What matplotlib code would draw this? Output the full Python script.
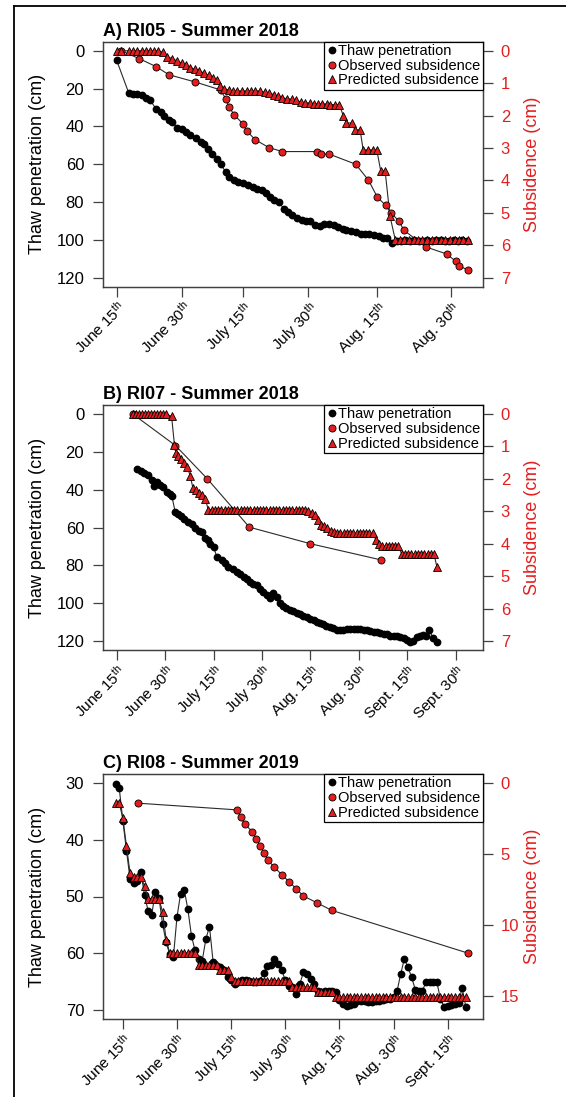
import matplotlib
matplotlib.use("Agg")
import matplotlib.pyplot as plt
from matplotlib.lines import Line2D

plt.rcParams["font.family"] = ["Liberation Sans", "DejaVu Sans"]
plt.rcParams["mathtext.fontset"] = "custom"
plt.rcParams["mathtext.rm"] = "Liberation Sans"
plt.rcParams["mathtext.default"] = "regular"

RED = "#e41e1e"
LINE = "#2a2a2a"
BOX = "#404040"

# ---- A) RI05, summer 2018 (x = days after June 15) ----
A_thaw_day = [0, 2.8, 3.7, 4.7, 5.7, 6.6, 7.6, 9.0, 10.0, 10.8, 11.9, 12.7, 13.7, 14.8, 15.8, 16.8,
              18.0, 19.1, 19.9, 20.7, 21.8, 22.8, 23.7, 24.8, 25.6, 26.7, 27.7, 28.7, 30.0, 31.0,
              32.0, 33.0, 34.1, 34.9, 35.9, 36.9, 38.0, 39.0, 40.0, 41.1, 42.2, 43.1, 44.1, 45.1,
              46.2, 47.2, 48.4, 49.5, 50.3, 51.4, 52.3, 53.3, 54.4, 55.5, 56.5, 57.4, 58.5, 59.6,
              60.6, 61.5, 62.6, 63.7, 64.7, 65.7, 66.7, 67.7, 68.7, 69.7, 70.7, 71.7, 72.7, 73.7,
              74.7, 75.7, 76.7, 77.7, 78.7, 79.7]
A_thaw_cm = [5.0, 22.6, 23.1, 23.1, 23.2, 24.8, 26.1, 30.8, 32.3, 34.5, 36.7, 37.6, 40.6, 41.6, 42.9, 44.6,
             46.4, 48.2, 49.4, 52.2, 54.7, 57.0, 60.0, 64.1, 66.7, 68.5, 69.3, 70.2, 71.1, 72.0,
             72.9, 73.8, 75.2, 77.3, 78.7, 79.9, 83.5, 85.2, 87.0, 88.2, 89.6, 90.0, 90.0, 92.3,
             92.8, 91.8, 91.8, 92.3, 93.2, 94.2, 94.9, 95.3, 95.8, 96.7, 96.7, 97.1, 97.6, 98.1,
             98.8, 99.3, 101.5, 100.6, 100.4, 100.2, 100.5, 100.3, 100.6, 100.4, 100.2, 100.5, 100.3, 100.1,
             100.4, 100.6, 100.3, 100.5, 100.2, 100.4]
A_obs_day = [1.0, 5.1, 9.0, 11.9, 17.8, 23.7, 24.8, 25.6, 26.7, 28.7, 29.7, 31.6, 34.7, 37.7, 45.6,
             46.6, 48.4, 54.4, 57.3, 59.3, 61.2, 62.4, 64.3, 65.3, 70.3, 75.1, 77.2, 78.0, 80.0]
A_obs_cm = [0.0, 0.24, 0.49, 0.74, 0.96, 1.21, 1.48, 1.73, 1.97, 2.25, 2.49, 2.75, 2.99, 3.11, 3.11,
            3.19, 3.19, 3.50, 3.99, 4.51, 4.77, 5.00, 5.26, 5.53, 6.05, 6.27, 6.50, 6.64, 6.77]
A_pred_day = [0, 1.0, 2.8, 3.7, 4.7, 5.7, 6.6, 7.6, 8.4, 9.4,
              10.6, 11.5, 12.7, 13.7, 14.8, 15.8, 16.8, 17.8, 18.8, 19.9, 21.0, 21.9, 22.8,
              23.6, 24.4, 25.5, 26.5, 27.5, 28.5, 29.6, 30.6, 31.6, 32.6,
              33.7, 34.7, 35.7, 36.7, 37.7, 38.8, 39.9, 40.8, 41.9, 42.9,
              44.0, 44.9, 45.8, 46.8, 47.8, 48.6, 49.7, 50.7,
              51.6, 52.3, 53.5, 54.2, 55.4, 56.1, 57.3, 58.3, 59.2, 60.1, 61.1, 62.2,
              63.4, 64.5, 65.5, 66.5, 67.6, 68.6, 69.6, 70.7, 71.7, 72.7, 73.8, 74.8, 75.8, 76.9,
              77.9, 78.9, 80.0]
A_pred_cm = [0.0, 0.0, 0.0, 0.0, 0.0, 0.0, 0.0, 0.0, 0.0, 0.0,
             0.05, 0.19, 0.24, 0.31, 0.38, 0.45, 0.52, 0.57, 0.62, 0.69, 0.76, 0.83, 0.91,
             1.09, 1.17, 1.21, 1.24, 1.24, 1.24, 1.24, 1.24, 1.24, 1.24,
             1.28, 1.30, 1.35, 1.40, 1.45, 1.48, 1.50, 1.53, 1.58, 1.61,
             1.61, 1.63, 1.64, 1.64, 1.64, 1.66, 1.66, 1.66,
             2.02, 2.23, 2.23, 2.44, 2.44, 3.06, 3.06, 3.06, 3.06, 3.71, 3.71, 5.10,
             5.83, 5.83, 5.83, 5.83, 5.83, 5.83, 5.83, 5.83, 5.83, 5.83, 5.83, 5.83, 5.83, 5.83,
             5.83, 5.83, 5.83]
A_tick_day = [0, 14.95, 28.7, 43.6, 59.3, 76]
A_tick_txt = ["June 15", "June 30", "July 15", "July 30", "Aug. 15", "Aug. 30"]

# ---- B) RI07, summer 2018 ----
B_thaw_day = [6.2, 7.5, 8.6, 9.7, 10.8, 11.4, 12.4, 13.4, 14.4, 15.5, 16.4, 17.1, 18.1, 18.9, 19.8,
              20.9, 22.0, 23.2, 24.3, 25.4, 26.5, 27.4, 28.2, 29.0, 30.0, 31.0, 32.5, 33.6, 34.6,
              36.1, 37.2, 38.2, 39.3, 40.3, 41.3, 42.3, 43.4, 44.4, 45.4, 46.5, 47.5, 48.5, 49.6,
              50.6, 51.6, 52.6, 53.7, 54.7, 55.8, 56.8, 57.8, 58.9, 59.9, 61.0, 62.0, 63.0, 64.0,
              65.0, 66.1, 67.1, 68.1, 69.2, 70.2, 71.3, 72.3, 73.4, 74.4, 75.5, 76.5, 77.5, 78.6,
              79.6, 80.6, 81.7, 82.7, 83.7, 84.8, 85.8, 86.8, 87.9, 88.9, 89.9, 90.9, 91.9, 92.9,
              93.9, 94.9, 95.9, 96.9, 98.0, 99.1]
B_thaw_cm = [28.8, 30.0, 31.4, 32.3, 34.9, 38.0, 35.8, 37.6, 38.8, 41.1, 42.5, 43.4, 51.7, 52.6, 54.0,
             55.6, 57.0, 58.4, 60.2, 61.8, 62.6, 65.3, 66.7, 68.5, 70.2, 75.5, 77.3, 79.0, 80.8,
             82.2, 83.5, 84.7, 86.1, 87.0, 88.8, 90.0, 90.5, 92.3, 94.1, 95.8, 97.1, 94.9, 96.7,
             100.2, 101.6, 102.5, 103.4, 104.3, 105.2, 106.0, 106.9, 107.5, 108.2, 109.1, 110.0, 110.6, 111.2,
             111.9, 112.6, 113.3, 114.0, 114.2, 114.3, 113.8, 113.5, 113.6, 113.5, 113.8, 114.0, 114.3, 114.8,
             115.2, 115.5, 116.0, 116.3, 116.5, 117.5, 117.5, 117.3, 117.8, 118.5, 119.5, 120.7, 119.8, 118.0,
             117.3, 117.0, 117.3, 114.2, 118.5, 120.7]
B_obs_day = [5.0, 18.2, 28.0, 41.1, 60.0, 81.9]
B_obs_cm = [0.0, 0.97, 1.99, 3.49, 4.00, 4.50]
B_pred_day = [5.0, 5.9, 6.9, 7.8, 8.7, 9.6, 10.5, 11.5, 12.4, 13.3, 14.3, 15.2,
              17.0, 17.9, 18.4, 19.0, 19.8, 20.8, 21.8, 22.8, 23.6, 24.5, 25.4, 26.4, 27.4, 28.4,
              29.4, 30.4, 31.4, 32.4, 33.4, 34.4, 35.4, 36.4, 37.4, 38.4, 39.4, 40.4, 41.4, 42.4, 43.4,
              44.4, 45.4, 46.4, 47.4, 48.4, 49.4, 50.4, 51.4, 52.4, 53.4, 54.4, 55.4, 56.4, 57.4, 58.4,
              59.4, 60.4, 61.3, 62.3, 63.3, 64.3, 65.3, 66.3, 67.3,
              68.3, 69.3, 70.3, 71.3, 72.3, 73.3, 74.3, 75.3, 76.3, 77.3, 78.3, 79.3,
              80.3, 81.3, 82.3, 83.3, 84.3, 85.3, 86.3, 87.3,
              88.3, 89.3, 90.3, 91.3, 92.3, 93.3, 94.3, 95.3, 96.3, 97.3, 98.3, 99.2]
B_pred_cm = [0.0, 0.0, 0.0, 0.0, 0.0, 0.0, 0.0, 0.0, 0.0, 0.0, 0.0, 0.0,
             0.07, 0.96, 1.19, 1.29, 1.40, 1.50, 1.62, 1.91, 2.28, 2.35, 2.43, 2.50, 2.62, 2.95,
             2.95, 2.95, 2.95, 2.95, 2.95, 2.95, 2.95, 2.95, 2.95, 2.95, 2.95, 2.95, 2.95, 2.95, 2.95,
             2.95, 2.95, 2.95, 2.95, 2.95, 2.95, 2.95, 2.95, 2.95, 2.95, 2.95, 2.95, 2.95, 2.95, 2.95,
             3.00, 3.05, 3.12, 3.26, 3.41, 3.46, 3.52, 3.60, 3.65,
             3.68, 3.68, 3.68, 3.68, 3.68, 3.68, 3.68, 3.68, 3.68, 3.68, 3.68, 3.68,
             3.88, 4.00, 4.08, 4.08, 4.08, 4.08, 4.08, 4.08,
             4.32, 4.32, 4.32, 4.32, 4.32, 4.32, 4.32, 4.32, 4.32, 4.32, 4.32, 4.71]
B_tick_day = [0, 15, 30, 45, 60, 75, 90, 105]
B_tick_txt = ["June 15", "June 30", "July 15", "July 30", "Aug. 15", "Aug. 30", "Sept. 15", "Sept. 30"]

# ---- C) RI08, summer 2019 (daily thaw + predicted) ----
C_day = [-2, -1, 0, 1, 2, 3, 4, 5, 6, 7, 8, 9, 10, 11, 12, 13, 14, 15, 16, 17, 18, 19, 20, 21, 22,
         23, 24, 25, 26, 27, 28, 29, 30, 31, 32, 33, 34, 35, 36, 37, 38, 39, 40, 41, 42, 43, 44, 45,
         46, 47, 48, 49, 50, 51, 52, 53, 54, 55, 56, 57, 58, 59, 60, 61, 62, 63, 64, 65, 66, 67, 68,
         69, 70, 71, 72, 73, 74, 75, 76, 77, 78, 79, 80, 81, 82, 83, 84, 85, 86, 87, 88, 89, 90, 91,
         92, 93, 94, 95]
C_thaw_cm = [30.1, 30.9, 36.6, 41.9, 46.9, 47.6, 47.3, 45.7, 49.8, 52.5, 53.2, 49.2, 50.2, 54.8, 58.1,
             60.2, 60.7, 53.6, 49.5, 48.8, 52.2, 56.9, 59.5, 61.0, 61.3, 57.5, 55.3, 61.5, 62.2, 62.5,
             63.0, 64.2, 64.8, 65.4, 65.1, 64.8, 64.8, 64.9, 65.0, 65.1, 64.9, 63.5, 62.2, 62.0, 61.0,
             61.9, 62.9, 64.8, 65.7, 66.0, 67.2, 65.5, 63.4, 63.6, 64.5, 65.4, 66.6, 66.9, 66.6, 66.6,
             66.6, 66.8, 68.2, 68.9, 69.3, 69.2, 68.9, 68.5, 68.4, 68.4, 68.6, 68.6, 68.5, 68.4, 68.3,
             68.1, 68.1, 67.8, 66.6, 63.6, 61.0, 62.5, 64.2, 66.4, 66.7, 66.6, 65.1, 65.1, 65.1, 65.1,
             68.1, 69.4, 69.3, 69.2, 68.9, 68.7, 66.1, 69.4]
C_pred_cm = [1.42, 1.42, 2.48, 4.44, 6.35, 6.62, 6.62, 6.62, 7.25, 8.15, 8.15, 8.15, 8.15, 9.10, 11.05,
             12.0, 12.0, 12.0, 12.0, 12.0, 12.0, 12.0, 12.0,
             12.85, 12.85, 12.85, 12.85, 12.85, 12.85,
             13.15, 13.15, 13.15, 13.7,
             13.94, 13.94, 13.94, 13.94, 13.94, 13.94, 13.94, 13.94, 13.94, 13.94, 13.94, 13.94, 13.94,
             13.94, 13.94, 13.94,
             14.4, 14.4, 14.4, 14.4, 14.4, 14.4, 14.4,
             14.76, 14.76, 14.76, 14.76, 14.76,
             15.1, 15.1, 15.1, 15.1, 15.1, 15.1, 15.1, 15.1, 15.1, 15.1, 15.1, 15.1, 15.1, 15.1, 15.1,
             15.1, 15.1, 15.1, 15.1, 15.1, 15.1, 15.1, 15.1, 15.1, 15.1, 15.1, 15.1, 15.1, 15.1, 15.1,
             15.1, 15.1, 15.1, 15.1, 15.1, 15.1, 15.1]
C_obs_day = [4.3, 31.6, 32.7, 33.8, 35.9, 37.0, 38.1, 39.1, 40.2, 42.0, 44.0, 46.1, 48.0, 50.0, 53.9,
             57.9, 95.7]
C_obs_cm = [1.42, 1.89, 2.41, 2.91, 3.43, 3.95, 4.44, 4.91, 5.43, 5.95, 6.45, 6.97, 7.44, 7.96, 8.46,
            8.98, 12.0]
C_tick_day = [0, 15, 30, 45, 60, 75, 90]
C_tick_txt = ["June 15", "June 30", "July 15", "July 30", "Aug. 15", "Aug. 30", "Sept. 15"]

MS_DOT, MS_CIRC, MS_TRI = 4.6, 5.1, 5.5


def style_frame(ax):
    for sp in ax.spines.values():
        sp.set_color(BOX)
        sp.set_linewidth(0.9)


def draw_panel(ax, title, thaw_day, thaw_cm, obs_day, obs_cm, pred_day, pred_cm,
               xlim, tick_day, tick_txt, thaw_lim, thaw_ticks, sub_lim, sub_ticks):
    ax.plot(thaw_day, thaw_cm, "-", color=LINE, lw=0.8, zorder=2)
    ax.plot(thaw_day, thaw_cm, "o", ms=MS_DOT, color="black", zorder=3)
    ax.set_xlim(*xlim)
    ax.set_ylim(*thaw_lim)
    ax.set_yticks(thaw_ticks)
    ax.set_xticks(tick_day, [rf"{t}$^{{th}}$" for t in tick_txt],
                  rotation=45, ha="right", rotation_mode="anchor")
    ax.tick_params(axis="both", direction="out", length=7, width=0.9, color=BOX, labelsize=12)
    ax.tick_params(axis="y", pad=6.5)
    ax.tick_params(axis="x", pad=1.5, labelsize=11)
    ax.set_ylabel("Thaw penetration (cm)", fontsize=13)
    ax.yaxis.set_label_coords(-0.15, 0.5)
    ax.set_title(title, loc="left", fontsize=13, fontweight="bold", pad=4)
    style_frame(ax)

    ax2 = ax.twinx()
    ax2.plot(obs_day, obs_cm, "-", color=LINE, lw=0.8, zorder=2)
    ax2.plot(obs_day, obs_cm, "o", ms=MS_CIRC, mfc=RED, mec="black", mew=0.6, zorder=3)
    ax2.plot(pred_day, pred_cm, "-", color=LINE, lw=0.8, zorder=2)
    ax2.plot(pred_day, pred_cm, "^", ms=MS_TRI, mfc=RED, mec="black", mew=0.6, zorder=4)
    ax2.set_ylim(*sub_lim)
    ax2.set_yticks(sub_ticks)
    ax2.tick_params(axis="y", direction="out", length=7, width=0.9, color=BOX,
                    labelsize=12, labelcolor=RED, pad=6)
    ax2.set_ylabel("Subsidence (cm)", fontsize=13, color=RED)
    ax2.yaxis.set_label_coords(1.11, 0.5)
    style_frame(ax2)

    handles = [
        Line2D([], [], ls="none", marker="o", ms=MS_DOT, color="black"),
        Line2D([], [], ls="none", marker="o", ms=MS_CIRC, mfc=RED, mec="black", mew=0.6),
        Line2D([], [], ls="none", marker="^", ms=MS_TRI, mfc=RED, mec="black", mew=0.6),
    ]
    leg = ax2.legend(handles, ["Thaw penetration", "Observed subsidence", "Predicted subsidence"],
                     loc="upper right", fontsize=10.5, frameon=True, fancybox=False,
                     borderaxespad=0, borderpad=0.15, labelspacing=0.05,
                     handlelength=0.7, handletextpad=0.1)
    leg.get_frame().set_edgecolor("black")
    leg.get_frame().set_linewidth(0.9)
    leg.get_frame().set_alpha(1)


fig = plt.figure(figsize=(5.66, 10.97), dpi=100)
L, W = 103 / 566, (482.7 - 103) / 566
H = 245 / 1097
axA = fig.add_axes([L, 1 - 286.7 / 1097, W, H])
axB = fig.add_axes([L, 1 - 650 / 1097, W, H])
axC = fig.add_axes([L, 1 - 1019 / 1097, W, H])

draw_panel(axA, "A) RI05 - Summer 2018", A_thaw_day, A_thaw_cm, A_obs_day, A_obs_cm,
           A_pred_day, A_pred_cm, (-3.1, 83.3), A_tick_day, A_tick_txt,
           (124.8, -4.8), [0, 20, 40, 60, 80, 100, 120], (7.28, -0.28), [0, 1, 2, 3, 4, 5, 6, 7])
draw_panel(axB, "B) RI07 - Summer 2018", B_thaw_day, B_thaw_cm, B_obs_day, B_obs_cm,
           B_pred_day, B_pred_cm, (-4.25, 113.4), B_tick_day, B_tick_txt,
           (124.8, -4.8), [0, 20, 40, 60, 80, 100, 120], (7.28, -0.28), [0, 1, 2, 3, 4, 5, 6, 7])
draw_panel(axC, "C) RI08 - Summer 2019", C_day, C_thaw_cm, C_obs_day, C_obs_cm,
           C_day, C_pred_cm, (-5.5, 99.7), C_tick_day, C_tick_txt,
           (71.6, 28.4), [30, 40, 50, 60, 70], (16.64, -0.64), [0, 5, 10, 15])

# outer frame line along the top and left edges
fx, fy = 14.4 / 566, 1 - 5.7 / 1097
fig.add_artist(Line2D([fx, fx], [0, fy], transform=fig.transFigure, color="black", lw=1.3))
fig.add_artist(Line2D([fx, 1], [fy, fy], transform=fig.transFigure, color="black", lw=1.3))

fig.savefig("out.png", dpi=100)
